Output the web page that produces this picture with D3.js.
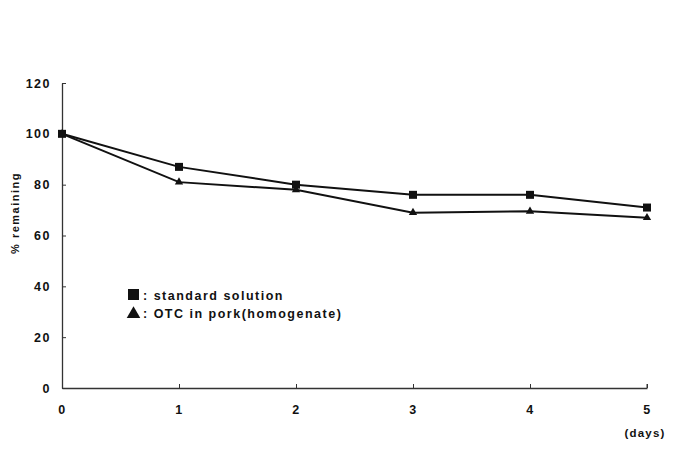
<!DOCTYPE html>
<html>
<head>
<meta charset="utf-8">
<script src="https://cdn.jsdelivr.net/npm/d3@7"></script>
<style>
  body { margin: 0; background: #fff; }
  text { font-family: "Liberation Sans", Arial, sans-serif; font-weight: bold; fill: #111; }
</style>
</head>
<body>
<div class="canvas"></div>
<script>
// data
const days = [0, 1, 2, 3, 4, 5];
const standardSolution = [100, 87, 80, 76, 76, 71];
const otcPork = [100, 81, 78, 69, 69.5, 67];
const yTicks = [0, 20, 40, 60, 80, 100, 120];
const legendLabels = [': standard solution', ': OTC in pork(homogenate)'];

const width = 685, height = 456;
const margin = {top: 83, right: 38, bottom: 68, left: 62};
const graphWidth = width - margin.left - margin.right;
const graphHeight = height - margin.top - margin.bottom;

const svg = d3.select('.canvas')
  .append('svg')
    .attr('width', width)
    .attr('height', height);

const graph = svg.append('g')
  .attr('transform', `translate(${margin.left}, ${margin.top})`);

const x = d3.scaleLinear().domain([0, 5]).range([0, graphWidth]);
const y = d3.scaleLinear().domain([0, 120]).range([graphHeight, 0]);

// axes, ticks pointing inward
const xAxis = d3.axisBottom(x).tickValues(days).tickFormat(d3.format('d'))
  .tickSize(-4).tickPadding(17).tickSizeOuter(0);
const yAxis = d3.axisLeft(y).tickValues(yTicks).tickFormat(d3.format('d'))
  .tickSize(-4).tickPadding(12).tickSizeOuter(0);

const xAxisGroup = graph.append('g')
  .attr('transform', `translate(0, ${graphHeight})`)
  .call(xAxis);
const yAxisGroup = graph.append('g').call(yAxis);

[xAxisGroup, yAxisGroup].forEach(g => {
  g.select('.domain').attr('stroke', '#333').attr('stroke-width', 1.3);
  g.selectAll('.tick line').attr('stroke', '#333');
  g.selectAll('text')
    .attr('font-size', 12.5)
    .style('font-family', '"Liberation Sans", Arial, sans-serif')
    .style('letter-spacing', '1.5px')
    .attr('font-weight', 'bold');
});
yAxisGroup.selectAll('text').attr('x', -11);
// short end tick at the right of the x axis
xAxisGroup.append('line')
  .attr('x1', x(5)).attr('x2', x(5))
  .attr('y1', 0).attr('y2', -4)
  .attr('stroke', '#333');

// lines
const line = d3.line()
  .x((d, i) => x(days[i]))
  .y(d => y(d));

[standardSolution, otcPork].forEach(series => {
  graph.append('path')
    .datum(series)
    .attr('d', line)
    .attr('fill', 'none')
    .attr('stroke', '#111')
    .attr('stroke-width', 2);
});

// markers
graph.selectAll('.sq')
  .data(standardSolution)
  .enter()
  .append('rect')
    .attr('class', 'sq')
    .attr('x', (d, i) => x(days[i]) - 4)
    .attr('y', d => y(d) - 4)
    .attr('width', 8)
    .attr('height', 8)
    .attr('fill', '#111');

const tri = d3.symbol().type(d3.symbolTriangle).size(30);
graph.selectAll('.tri')
  .data(otcPork)
  .enter()
  .append('path')
    .attr('class', 'tri')
    .attr('d', tri)
    .attr('transform', (d, i) => `translate(${x(days[i])}, ${y(d)})`)
    .attr('fill', '#111');

// legend
const legend = svg.append('g').attr('transform', 'translate(128, 289)');
legend.append('rect')
  .attr('x', 0).attr('y', 0).attr('width', 11).attr('height', 11)
  .attr('fill', '#111');
legend.append('path')
  .attr('d', d3.symbol().type(d3.symbolTriangle).size(80))
  .attr('transform', 'translate(5.5, 25)')
  .attr('fill', '#111');
legend.selectAll('.lab')
  .data(legendLabels)
  .enter()
  .append('text')
    .attr('class', 'lab')
    .attr('x', 15)
    .attr('y', (d, i) => 11 + i * 18)
    .attr('font-size', 12.5)
    .style('letter-spacing', '1.5px')
    .text(d => d);

// axis titles
svg.append('text')
  .attr('transform', 'translate(19, 213) rotate(-90)')
  .attr('text-anchor', 'middle')
  .attr('font-size', 11)
  .style('letter-spacing', '1.5px')
  .text('% remaining');

svg.append('text')
  .attr('x', 645)
  .attr('y', 437)
  .attr('text-anchor', 'middle')
  .attr('font-size', 11.5)
  .style('letter-spacing', '1.2px')
  .text('(days)');
</script>
</body>
</html>
